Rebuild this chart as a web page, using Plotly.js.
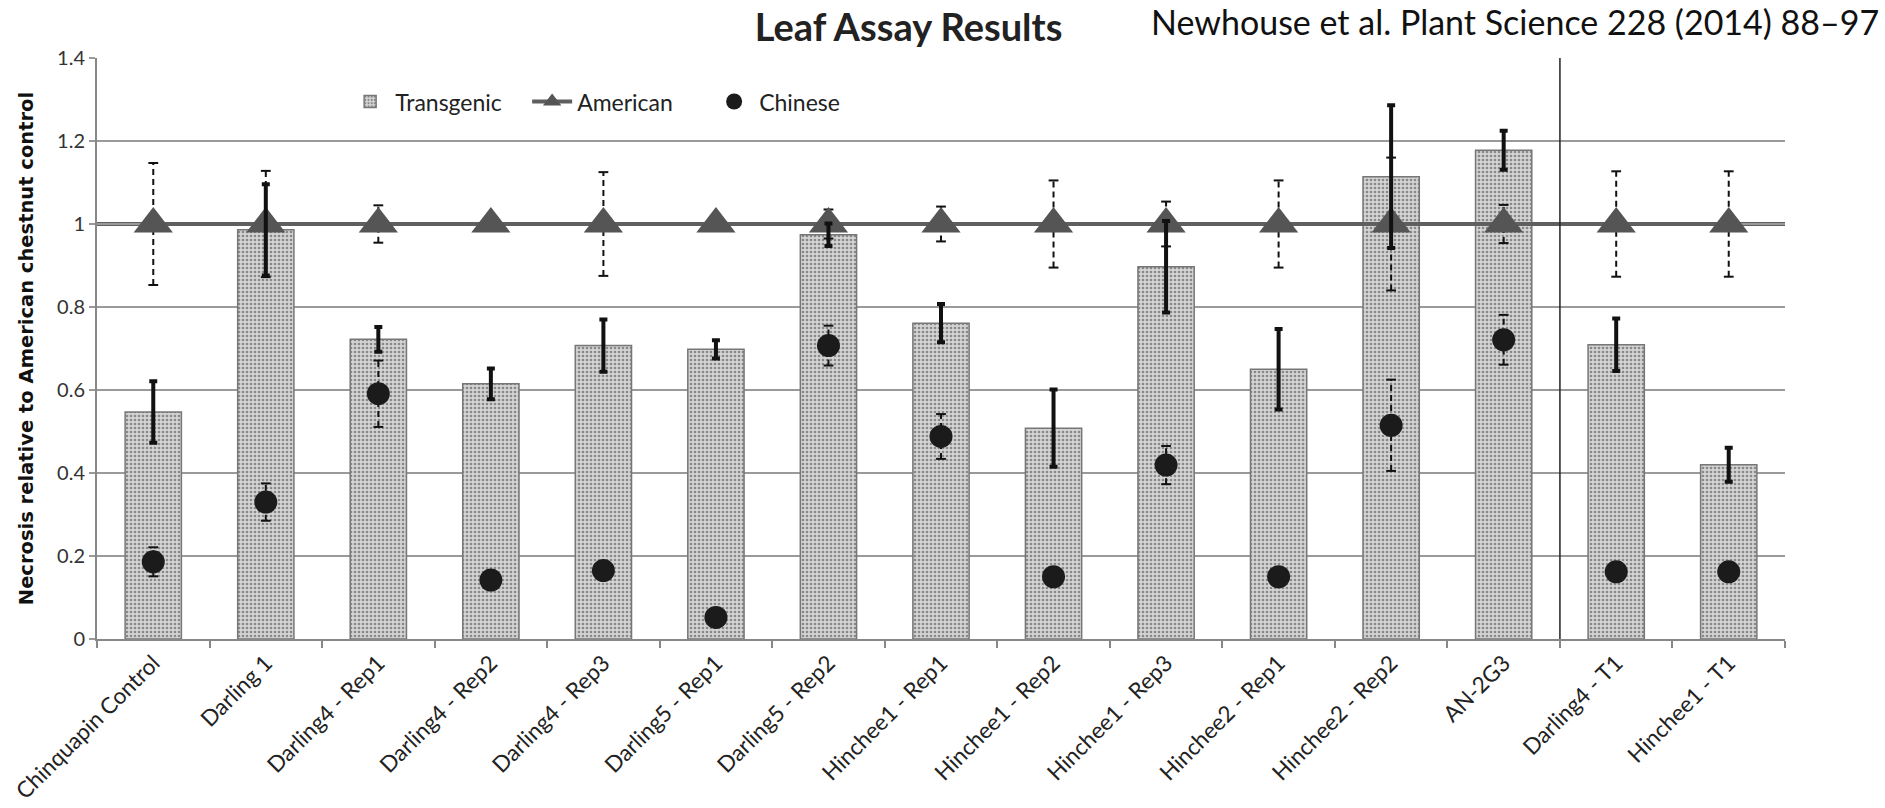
<!DOCTYPE html>
<html>
<head>
<meta charset="utf-8">
<script src="https://cdn.plot.ly/plotly-3.0.1.min.js"></script>
<style>
  html, body { margin: 0; padding: 0; background: #ffffff; }
  #chart { width: 1885px; height: 808px; }
</style>
</head>
<body>
<div id="chart"></div>
<script>
// ---- Data ----
const categories = [
  'Chinquapin Control', 'Darling 1', 'Darling4 - Rep1', 'Darling4 - Rep2',
  'Darling4 - Rep3', 'Darling5 - Rep1', 'Darling5 - Rep2', 'Hinchee1 - Rep1',
  'Hinchee1 - Rep2', 'Hinchee1 - Rep3', 'Hinchee2 - Rep1', 'Hinchee2 - Rep2',
  'AN-2G3', 'Darling4 - T1', 'Hinchee1 - T1'
];
const transgenic    = [0.547, 0.986, 0.722, 0.615, 0.707, 0.698, 0.974, 0.761, 0.508, 0.897, 0.650, 1.114, 1.178, 0.709, 0.420];
const transgenicErr = [0.074, 0.110, 0.030, 0.037, 0.063, 0.022, 0.027, 0.046, 0.093, 0.110, 0.097, 0.172, 0.047, 0.063, 0.041];
const american      = [1, 1, 1, 1, 1, 1, 1, 1, 1, 1, 1, 1, 1, 1, 1];
const americanErr   = [0.147, 0.128, 0.045, 0, 0.125, 0, 0.035, 0.042, 0.105, 0.054, 0.105, 0.160, 0.046, 0.127, 0.127];
const chinese       = [0.186, 0.330, 0.591, 0.142, 0.165, 0.052, 0.707, 0.488, 0.150, 0.419, 0.150, 0.515, 0.721, 0.162, 0.162];
const chineseErr    = [0.035, 0.045, 0.080, 0.020, 0, 0, 0.048, 0.054, 0, 0.046, 0, 0.110, 0.060, 0, 0];
const yTickValues   = [0, 0.2, 0.4, 0.6, 0.8, 1, 1.2, 1.4];
const yTickLabels   = ['0', '0.2', '0.4', '0.6', '0.8', '1', '1.2', '1.4'];
const lastGroupOneCategory = 'AN-2G3';

const chartTitle = 'Leaf Assay Results';
const citation = 'Newhouse et al. Plant Science 228 (2014) 88\u201397';
const yTitle = 'Necrosis relative to American chestnut control';

// ---- Helpers: dashed error segments built from the data ----
function dashedSegments(values, errs) {
  const xs = [], ys = [];
  categories.forEach((c, i) => {
    if (errs[i] > 0) {
      xs.push(c, c, null);
      ys.push(values[i] - errs[i], values[i] + errs[i], null);
    }
  });
  return { x: xs, y: ys };
}
const amSeg = dashedSegments(american, americanErr);
const chSeg = dashedSegments(chinese, chineseErr);

const traces = [
  {
    type: 'bar', name: 'Transgenic', x: categories, y: transgenic,
    marker: {
      color: '#cecece',
      line: { color: '#777777', width: 1.5 },
      pattern: { shape: '.', bgcolor: '#d4d4d4', fgcolor: '#888888', size: 4, solidity: 0.35 }
    },
    hoverinfo: 'skip'
  },
  {
    type: 'scatter', mode: 'lines+markers', x: amSeg.x, y: amSeg.y, showlegend: false,
    line: { color: '#111111', width: 2, dash: '6px,4px' },
    marker: { symbol: 'line-ew-open', size: 7, line: { color: '#111111', width: 2 } },
    connectgaps: false, hoverinfo: 'skip'
  },
  {
    type: 'scatter', mode: 'lines+markers', x: chSeg.x, y: chSeg.y, showlegend: false,
    line: { color: '#111111', width: 2, dash: '6px,4px' },
    marker: { symbol: 'line-ew-open', size: 7, line: { color: '#111111', width: 2 } },
    connectgaps: false, hoverinfo: 'skip'
  },
  {
    type: 'scatter', mode: 'lines+markers', name: 'American', x: categories, y: american,
    line: { color: '#5f5f5f', width: 4 },
    marker: { symbol: 'triangle-up', size: 34, color: '#555555' },
    hoverinfo: 'skip'
  },
  {
    type: 'scatter', mode: 'markers', x: categories, y: transgenic, showlegend: false,
    marker: { size: 1, color: 'rgba(0,0,0,0)' },
    error_y: { type: 'data', array: transgenicErr, visible: true, color: '#111111', thickness: 4, width: 4 },
    hoverinfo: 'skip'
  },
  {
    type: 'scatter', mode: 'markers', name: 'Chinese', x: categories, y: chinese,
    marker: { symbol: 'circle', size: 23, color: '#1b1b1b' },
    hoverinfo: 'skip'
  }
];

const sepIndex = categories.indexOf(lastGroupOneCategory) + 0.5;

const layout = {
  width: 1885, height: 808,
  margin: { l: 97, r: 100, t: 58, b: 169 },
  paper_bgcolor: '#ffffff', plot_bgcolor: '#ffffff',
  showlegend: true,
  bargap: 0.5,
  font: { family: 'Lato, "Open Sans", sans-serif', color: '#222222' },
  title: {
    text: '<b>' + chartTitle + '</b>',
    x: 0.482, xref: 'container', xanchor: 'center',
    y: 0.966, yref: 'container', yanchor: 'middle',
    font: { family: 'Lato, sans-serif', size: 38, color: '#222222' }
  },
  legend: {
    orientation: 'h', x: 0.147, xanchor: 'left', y: 0.925, yanchor: 'middle',
    bgcolor: 'rgba(0,0,0,0)', font: { family: 'Lato, sans-serif', size: 23, color: '#222222' },
    itemwidth: 40, entrywidth: 127
  },
  xaxis: {
    type: 'category', tickson: 'boundaries', ticks: 'outside', ticklen: 7,
    tickcolor: '#888888', tickwidth: 2,
    showline: true, linecolor: '#888888', linewidth: 2,
    showgrid: false, tickangle: -45,
    tickfont: { family: 'Lato, sans-serif', size: 22.5, color: '#222222' },
    range: [-0.5, categories.length - 0.5]
  },
  yaxis: {
    range: [yTickValues[0], yTickValues[yTickValues.length - 1]],
    tickvals: yTickValues, ticktext: yTickLabels,
    ticks: 'outside', ticklen: 6, tickcolor: '#999999', tickwidth: 2,
    showline: true, linecolor: '#888888', linewidth: 2,
    showgrid: true, gridcolor: '#9a9a9a', gridwidth: 2, zeroline: false,
    tickfont: { family: 'Lato, sans-serif', size: 20, color: '#333333' },
    title: {
      text: yTitle, standoff: 18,
      font: { family: '"DejaVu Sans", sans-serif', size: 19.5, color: '#111111', weight: 'bold' }
    }
  },
  shapes: [
    {
      type: 'line', xref: 'paper', yref: 'y', x0: 0, x1: 1,
      y0: american[0], y1: american[0],
      line: { color: '#5f5f5f', width: 4 }, layer: 'below'
    },
    {
      type: 'line', xref: 'x', yref: 'y', x0: sepIndex, x1: sepIndex,
      y0: yTickValues[0], y1: yTickValues[yTickValues.length - 1],
      line: { color: '#222222', width: 1.5 }
    }
  ],
  annotations: [
    {
      text: citation, xref: 'paper', yref: 'paper', x: 0.84, y: 1.062,
      xanchor: 'center', yanchor: 'middle', showarrow: false,
      font: { family: 'Lato, sans-serif', size: 34, color: '#111111' }
    }
  ]
};

Plotly.newPlot('chart', traces, layout, { displayModeBar: false, staticPlot: true });
</script>
</body>
</html>
